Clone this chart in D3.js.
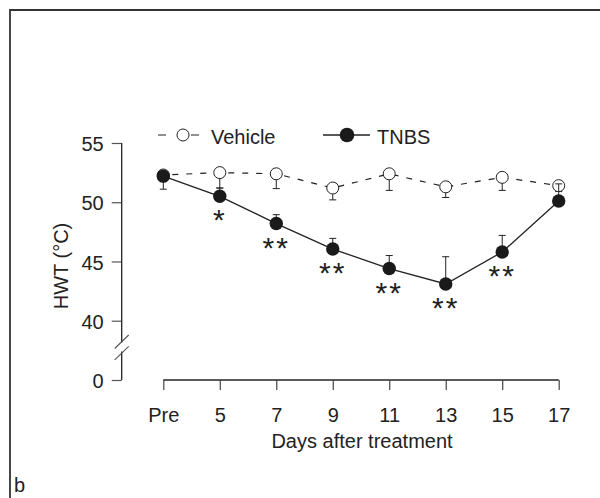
<!DOCTYPE html>
<html>
<head>
<meta charset="utf-8">
<script src="https://cdn.jsdelivr.net/npm/d3@7"></script>
<style>
  body { margin: 0; background: #fff; }
  text { font-family: "Liberation Sans", Arial, sans-serif; fill: #222; }
</style>
</head>
<body>
<div id="chart"></div>
<script>
var days = ["Pre", "5", "7", "9", "11", "13", "15", "17"];
var vehicle = [52.3, 52.5, 52.4, 51.2, 52.4, 51.3, 52.1, 51.4];
var vehicleSem = [1.2, 1.3, 1.25, 1.0, 1.4, 0.9, 1.1, 0.5];
var tnbs = [52.2, 50.5, 48.2, 46.05, 44.4, 43.1, 45.8, 50.1];
var tnbsSem = [0.4, 0.7, 0.75, 0.9, 1.1, 2.3, 1.4, 1.45];
var stars = ["", "*", "**", "**", "**", "**", "**", ""];
var yTicks = [40, 45, 50, 55];

(function () {
  var width = 600, height = 498, ink = "#222";
  var svg = d3.select("#chart").append("svg")
    .attr("width", width)
    .attr("height", height);

  // panel frame (top + left edges only)
  svg.append("path")
    .attr("d", "M10," + height + "V10H" + width)
    .attr("fill", "none")
    .attr("stroke", "#333")
    .attr("stroke-width", 1.8);

  var x = d3.scalePoint().domain(days).range([163.3, 558.7]);
  var y = d3.scaleLinear().domain([40, 55]).range([320.7, 143]);
  var yLow = d3.scaleLinear().domain([0, 2.5]).range([380, 350]);
  var axisX = 121.7;

  // y axis, upper part
  var gy = svg.append("g")
    .attr("transform", "translate(" + axisX + ",0)")
    .call(d3.axisLeft(y).tickValues(yTicks).tickSize(10).tickPadding(8).tickSizeOuter(0));
  // y axis, zero part
  var gy0 = svg.append("g")
    .attr("transform", "translate(" + axisX + ",0)")
    .call(d3.axisLeft(yLow).tickValues([0]).tickFormat(d3.format("d"))
      .tickSize(10).tickPadding(8).tickSizeOuter(0));
  [gy, gy0].forEach(function (g) {
    g.select(".domain").remove();
    g.selectAll(".tick line").attr("stroke", "#555").attr("stroke-width", 1.2);
    g.selectAll(".tick text").attr("font-size", 20).attr("dy", "0.38em").style("font-family", null);
  });
  svg.append("line")
    .attr("x1", axisX).attr("x2", axisX)
    .attr("y1", y(55)).attr("y2", 342.5)
    .attr("stroke", ink).attr("stroke-width", 1.3);
  svg.append("line")
    .attr("x1", axisX).attr("x2", axisX)
    .attr("y1", 351.5).attr("y2", yLow(0))
    .attr("stroke", ink).attr("stroke-width", 1.3);
  // break marks
  [348.5, 359.8].forEach(function (by) {
    svg.append("line")
      .attr("x1", axisX - 7).attr("y1", by)
      .attr("x2", axisX + 7).attr("y2", by - 13.5)
      .attr("stroke", "#555").attr("stroke-width", 1.1);
  });

  svg.append("text")
    .attr("transform", "translate(68,266) rotate(-90)")
    .attr("text-anchor", "middle")
    .attr("font-size", 20)
    .text("HWT (°C)");

  // x axis
  var gx = svg.append("g")
    .attr("transform", "translate(0,380)")
    .call(d3.axisBottom(x).tickSize(10).tickPadding(18).tickSizeOuter(0));
  gx.select(".domain").attr("stroke", ink).attr("stroke-width", 1.3)
    .attr("d", "M" + x("Pre") + ",0H" + x("17"));
  gx.selectAll(".tick line").attr("stroke", "#444").attr("stroke-width", 1.2);
  gx.selectAll(".tick text").attr("font-size", 20).style("font-family", null);

  svg.append("text")
    .attr("x", 362).attr("y", 448)
    .attr("text-anchor", "middle")
    .attr("font-size", 20)
    .text("Days after treatment");

  svg.append("text")
    .attr("x", 14).attr("y", 492)
    .attr("font-size", 20)
    .text("b");

  function pts(vals, sem) {
    return days.map(function (d, i) { return {d: d, v: vals[i], e: sem[i], s: stars[i]}; });
  }
  var vData = pts(vehicle, vehicleSem), tData = pts(tnbs, tnbsSem);
  var line = d3.line().x(function (d) { return x(d.d); }).y(function (d) { return y(d.v); });

  // vehicle: error below, dashed line
  svg.selectAll(".verr").data(vData).enter().append("path")
    .attr("class", "verr")
    .attr("d", function (d) {
      var cx = x(d.d), lo = y(d.v - d.e);
      return "M" + cx + "," + y(d.v) + "V" + lo + "M" + (cx - 3.5) + "," + lo + "H" + (cx + 3.5);
    })
    .attr("fill", "none").attr("stroke", ink).attr("stroke-width", 1);
  svg.append("path").datum(vData)
    .attr("d", line)
    .attr("fill", "none").attr("stroke", ink).attr("stroke-width", 1.2)
    .attr("stroke-dasharray", "6,8").attr("stroke-dashoffset", -9);

  // TNBS: error above, solid line
  svg.selectAll(".terr").data(tData).enter().append("path")
    .attr("class", "terr")
    .attr("d", function (d) {
      var cx = x(d.d), hi = y(d.v + d.e);
      return "M" + cx + "," + y(d.v) + "V" + hi + "M" + (cx - 3.5) + "," + hi + "H" + (cx + 3.5);
    })
    .attr("fill", "none").attr("stroke", ink).attr("stroke-width", 1);
  svg.append("path").datum(tData)
    .attr("d", line)
    .attr("fill", "none").attr("stroke", ink).attr("stroke-width", 1.3);

  svg.selectAll(".vdot").data(vData).enter().append("circle")
    .attr("class", "vdot")
    .attr("cx", function (d) { return x(d.d); })
    .attr("cy", function (d) { return y(d.v); })
    .attr("r", 6)
    .attr("fill", "#fff").attr("stroke", ink).attr("stroke-width", 1);
  // the day-17 TNBS error bar shows through the open vehicle circle
  svg.selectAll(".terr").filter(function (d, i) { return i === days.length - 1; }).raise();

  svg.selectAll(".tdot").data(tData).enter().append("circle")
    .attr("class", "tdot")
    .attr("cx", function (d) { return x(d.d); })
    .attr("cy", function (d) { return y(d.v); })
    .attr("r", 6.7)
    .attr("fill", "#1a1a1a");

  svg.selectAll(".star").data(tData.filter(function (d) { return d.s; })).enter().append("text")
    .attr("class", "star")
    .attr("x", function (d) { return x(d.d); })
    .attr("y", function (d) { return y(d.v) + 34; })
    .attr("text-anchor", "middle")
    .attr("font-size", 30)
    .attr("letter-spacing", 2)
    .text(function (d) { return d.s; });

  // legend
  var lg = svg.append("g");
  lg.append("path").attr("d", "M158,135H166M191,135H199")
    .attr("stroke", ink).attr("stroke-width", 1.2);
  lg.append("circle").attr("cx", 183).attr("cy", 135).attr("r", 6)
    .attr("fill", "#fff").attr("stroke", ink).attr("stroke-width", 1);
  lg.append("text").attr("x", 211).attr("y", 144).attr("font-size", 20).text("Vehicle");
  lg.append("path").attr("d", "M323,135H370")
    .attr("stroke", ink).attr("stroke-width", 1.3);
  lg.append("circle").attr("cx", 347).attr("cy", 135).attr("r", 7.3).attr("fill", "#1a1a1a");
  lg.append("text").attr("x", 377).attr("y", 144).attr("font-size", 20).text("TNBS");
}());
</script>
</body>
</html>
